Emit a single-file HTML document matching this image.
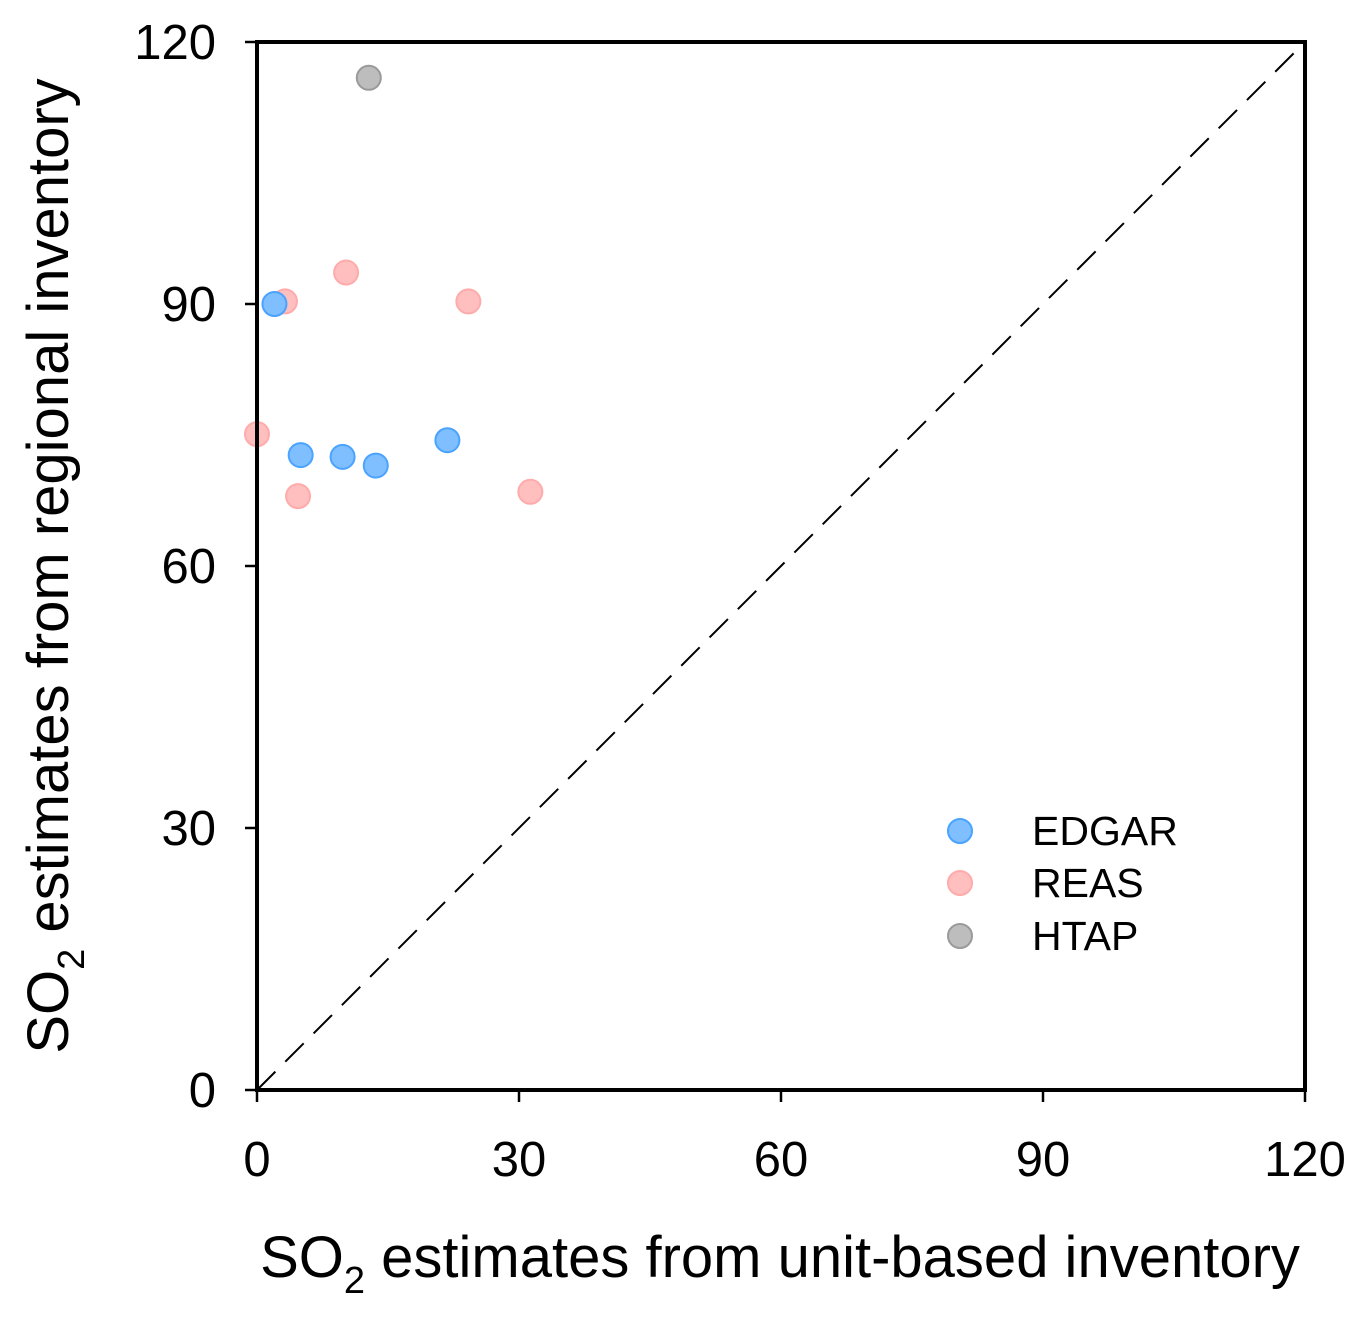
<!DOCTYPE html>
<html><head><meta charset="utf-8"><style>
html,body{margin:0;padding:0;background:#fff;}
svg{display:block;font-family:"Liberation Sans",Arial,sans-serif;}
</style></head><body>
<svg id="chart" width="1359" height="1320" viewBox="0 0 1359 1320" xmlns="http://www.w3.org/2000/svg">
<g id="grid"></g>
<g id="marks"></g>
<rect x="257" y="42" width="1048" height="1048" fill="none" stroke="#000" stroke-width="4"/>
<text x="780" y="1277" font-size="58" text-anchor="middle">SO<tspan font-size="38" dy="16">2</tspan><tspan dy="-16"> estimates from unit-based inventory</tspan></text>
<text transform="translate(68,566) rotate(-90)" font-size="58" text-anchor="middle">SO<tspan font-size="38" dy="16">2</tspan><tspan dy="-16"> estimates from regional inventory</tspan></text>
<g>
<circle cx="960" cy="831" r="12" fill="#80bfff" stroke="#4aa3ff" stroke-width="2"/>
<text x="1032" y="845" font-size="41">EDGAR</text>
<circle cx="960" cy="883" r="12" fill="#ffbfbf" stroke="#ffabab" stroke-width="2"/>
<text x="1032" y="897" font-size="41">REAS</text>
<circle cx="960" cy="936" r="12" fill="#bdbdbd" stroke="#9a9a9a" stroke-width="2"/>
<text x="1032" y="950" font-size="41">HTAP</text>
</g>
</svg>
<script>
const ticks=[0,30,60,90,120];
const edgarX=[2.0,5.0,9.8,13.6,21.8];
const edgarY=[90.0,72.7,72.5,71.5,74.4];
const reasX=[3.2,10.2,24.2,0.0,4.7,31.3];
const reasY=[90.3,93.6,90.3,75.1,68.0,68.5];
const htapX=[12.8];
const htapY=[115.9];
const X0=257,X1=1305,Y0=1090,Y1=42,MAX=120;
const sx=v=>X0+(X1-X0)*v/MAX, sy=v=>Y0-(Y0-Y1)*v/MAX;
const NS="http://www.w3.org/2000/svg";
const grid=document.getElementById('grid'), marks=document.getElementById('marks');
function mk(tag,attrs,parent,txt){const e=document.createElementNS(NS,tag);for(const k in attrs)e.setAttribute(k,attrs[k]);if(txt!==undefined)e.textContent=txt;parent.appendChild(e);return e;}
ticks.forEach(t=>{
  let e=mk('line',{x1:sx(t),x2:sx(t),y1:Y0,y2:Y0+12,stroke:'#000','stroke-width':2.5},grid);
  
  
  e=mk('text',{x:sx(t),y:1176,'font-size':49,'text-anchor':'middle'},grid,String(t));
  
  
  e=mk('line',{x1:X0-12,x2:X0,y1:sy(t),y2:sy(t),stroke:'#000','stroke-width':2.5},grid);
  
  
  e=mk('text',{x:216,y:sy(t)+17,'font-size':49,'text-anchor':'end'},grid,String(t));
  
  
});
let d=mk('line',{x1:sx(0),y1:sy(0),x2:sx(MAX),y2:sy(MAX),stroke:'#000','stroke-width':2,'stroke-dasharray':'26,14'},grid);


function series(xs,ys,fill,stroke,name){
  xs.forEach((x,i)=>{
    const c=mk('circle',{cx:sx(x),cy:sy(ys[i]),r:12,fill:fill,stroke:stroke,'stroke-width':2},marks);
    
    
  });
}
series(reasX,reasY,'#ffbfbf','#ffabab','point-reas');
series(edgarX,edgarY,'#80bfff','#4aa3ff','point-edgar');
series(htapX,htapY,'#bdbdbd','#9a9a9a','point-htap');
</script>
</body></html>
